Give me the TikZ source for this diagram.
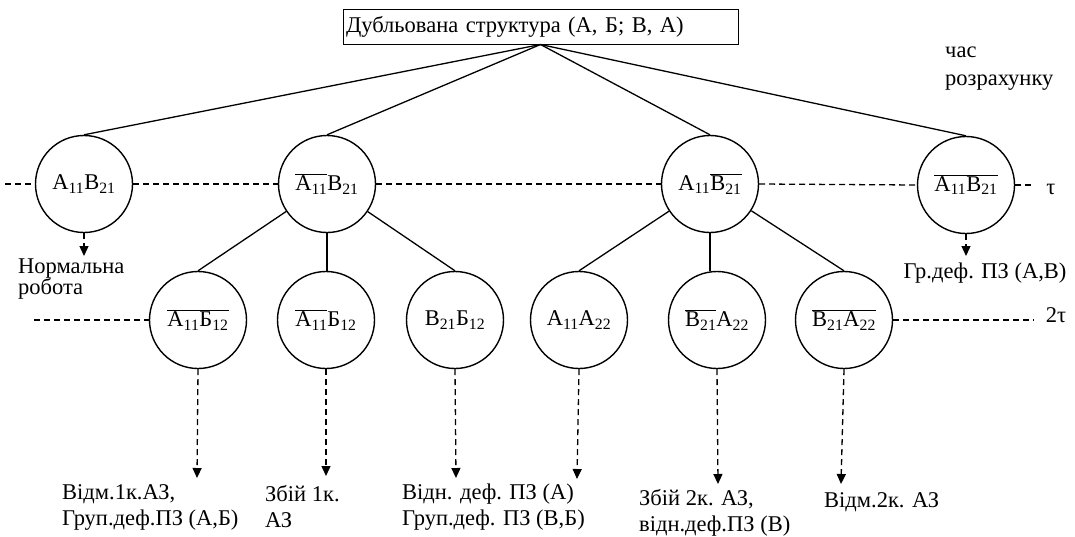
\documentclass[tikz,border=0pt]{standalone}
\usepackage{fontspec}
\setmainfont{Liberation Serif}
\usetikzlibrary{arrows.meta}
\newcommand{\obar}[1]{$\overline{\hbox{#1}}$}
\newcommand{\sbs}[1]{\textsubscript{#1}}
\begin{document}
\begin{tikzpicture}[x=1pt,y=-1pt,
  font=\fontsize{22.5}{26}\selectfont,
  st/.style={circle,draw,line width=1.4pt,minimum size=97pt,inner sep=0pt},
  edge/.style={line width=1.3pt},
  dsh/.style={line width=1.3pt,dash pattern=on 6pt off 4pt},
  arr/.style={dsh,-{Triangle[width=9pt,length=10pt]}},
  lbl/.style={align=left,anchor=west,inner sep=0pt}]
\useasboundingbox (0,0) rectangle (1075,536);

% top box
\node[draw,line width=1pt,text width=389pt,align=left,inner sep=3pt,minimum height=35pt] (top) at (540.5,26.5) {Дубльована структура (А, Б; В, А)};

% level 1
\node[st] (C1) at (84,184) {А\sbs{11}В\sbs{21}};
\node[st] (C2) at (327,184) {\obar{А\sbs{11}}В\sbs{21}};
\node[st] (C3) at (710,184) {А\sbs{11}\obar{В\sbs{21}}};
\node[st] (C4) at (966,185) {\raisebox{4pt}{\obar{А\sbs{11}В\sbs{21}}}};

% level 2
\node[st] (D1) at (198,320) {\obar{А\sbs{11}Б\sbs{12}}};
\node[st] (D2) at (326,320) {\obar{А\sbs{11}}Б\sbs{12}};
\node[st] (D3) at (455,320) {В\sbs{21}Б\sbs{12}};
\node[st] (D4) at (579,320) {А\sbs{11}А\sbs{22}};
\node[st] (D5) at (717,320) {\obar{В\sbs{21}}А\sbs{22}};
\node[st] (D6) at (844,320) {\obar{В\sbs{21}А\sbs{22}}};

% tree edges
\draw[edge] (top.south) -- (C1.north);
\draw[edge] (top.south) -- (C2.north);
\draw[edge] (top.south) -- (C3.north);
\draw[edge] (top.south) -- (C4.north);
\draw[edge] (C2) -- (D1.north);
\draw[edge] (C2.south) -- (C2.south |- D2.north);
\draw[edge] (C2) -- (D3.north);
\draw[edge] (C3) -- (D4.north);
\draw[edge] (C3.south) -- (C3.south |- D5.north);
\draw[edge] (C3) -- (D6.north);

% time level tau
\coordinate (L1s) at (5,184);
\coordinate (L1e) at (1032,185);
\draw[dsh] (L1s) -- (C1.west);
\draw[dsh] (C1.east) -- (C2.west);
\draw[dsh] (C2.east) -- (C3.west);
\draw[dsh] (C3.east) -- (C4.west);
\draw[dsh] (C4.east) -- (L1e);
\node[inner sep=0pt] (tau) at (1051,189) {τ};

% time level 2tau
\coordinate (L2s) at (34,320);
\coordinate (L2e) at (1034,320);
\draw[dsh] (L2s) -- (D1.west);
\draw[dsh] (D6.east) -- (L2e);
\node[inner sep=0pt] (tau2) at (1056,315) {2τ};

% time label
\node[lbl,font=\fontsize{22.5}{28}\selectfont] (time) at (945,69) {час\\розрахунку};

% outcomes level 1
\coordinate (a1) at (84,256);
\draw[arr] (C1.south) -- (a1);
\node[lbl,font=\fontsize{22.5}{20}\selectfont] (o1) at (18,279) {Нормальна\\робота};
\coordinate (a4) at (966,256);
\draw[arr] (C4.south) -- (a4);
\node[inner sep=0pt] (o4) at (985,273) {Гр.деф. ПЗ (А,В)};

% outcomes level 2
\coordinate (b1) at (197,478);
\coordinate (b2) at (326,476);
\coordinate (b3) at (456,478);
\coordinate (b4) at (577,479);
\coordinate (b5) at (718,484);
\coordinate (b6) at (841,484);
\draw[arr] (D1.south) -- (b1);
\draw[arr] (D2.south) -- (b2);
\draw[arr] (D3.south) -- (b3);
\draw[arr] (D4.south) -- (b4);
\draw[arr] (D5.south) -- (b5);
\draw[arr] (D6.south) -- (b6);
\node[lbl] (p1) at (62,507) {Відм.1к.АЗ,\\Груп.деф.ПЗ (А,Б)};
\node[lbl] (p2) at (265,507) {Збій 1к.\\АЗ};
\node[lbl] (p3) at (402,507) {Відн. деф. ПЗ (А)\\Груп.деф. ПЗ (В,Б)};
\node[lbl] (p5) at (639,513) {Збій 2к. АЗ,\\відн.деф.ПЗ (В)};
\node[lbl] (p6) at (824,502) {Відм.2к. АЗ};
\end{tikzpicture}
\end{document}
